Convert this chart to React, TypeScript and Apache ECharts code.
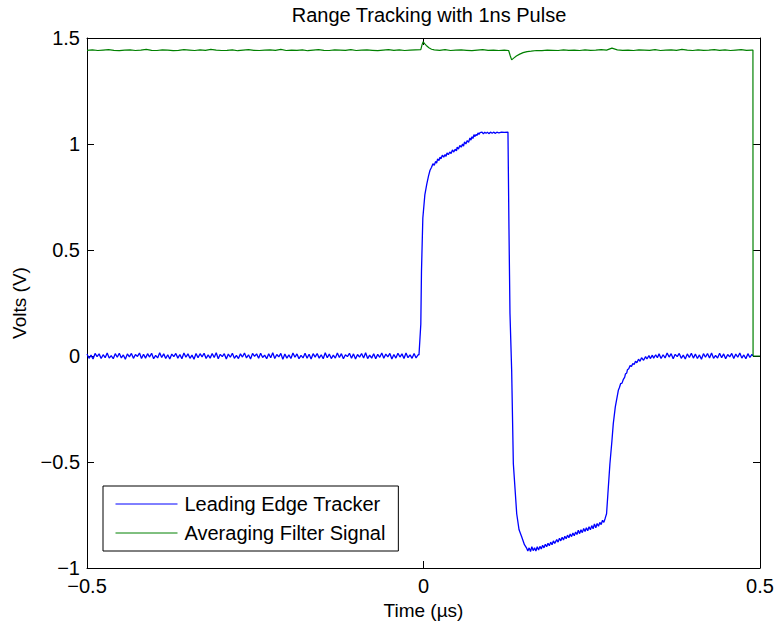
import React, { useEffect, useRef } from "react";
import * as echarts from "echarts";

// ---------- Data ----------
const title = "Range Tracking with 1ns Pulse";
const xName = "Time (µs)";
const yName = "Volts (V)";
const seriesNames = ["Leading Edge Tracker", "Averaging Filter Signal"];

// Blue trace: noisy baseline samples before the pulse (start -0.5, step 0.003)
const blueLeftStart = -0.5;
const blueStep = 0.003;
const blueLeft = [
  0.009, -0.011, 0.004, -0.014, 0.012, -0.003, 0.010, -0.012, 0.006, -0.008, 0.014, -0.010, 0.002, -0.013, 0.011,
  -0.006, 0.013, -0.009, 0.005, -0.015, 0.010, -0.004, 0.012, -0.011, 0.007, -0.002, 0.014, -0.012, 0.008, -0.010,
  0.011, -0.005, 0.013, -0.013, 0.003, -0.009, 0.015, -0.007, 0.010, -0.012, 0.006, -0.014, 0.009, -0.003, 0.012,
  -0.010, 0.007, -0.013, 0.014, -0.006, 0.010, -0.011, 0.004, -0.015, 0.012, -0.008, 0.011, -0.004, 0.013, -0.012,
  0.005, -0.010, 0.012, -0.007, 0.015, -0.013, 0.008, -0.003, 0.011, -0.014, 0.009, -0.006, 0.013, -0.011, 0.003,
  -0.012, 0.010, -0.005, 0.014, -0.009, 0.006, -0.014, 0.012, -0.002, 0.010, -0.011, 0.013, -0.007, 0.004, -0.013,
  0.011, -0.008, 0.015, -0.012, 0.007, -0.004, 0.012, -0.015, 0.009, -0.010, 0.005, -0.012, 0.014, -0.006, 0.010,
  -0.013, 0.003, -0.009, 0.013, -0.011, 0.008, -0.014, 0.011, -0.005, 0.012, -0.010, 0.006, -0.013, 0.015, -0.008,
  0.009, -0.012, 0.004, -0.010, 0.014, -0.007, 0.011, -0.013, 0.006, -0.003, 0.013, -0.011, 0.010, -0.014, 0.007,
  -0.005, 0.012, -0.009, 0.015, -0.012, 0.004, -0.010, 0.011, -0.013, 0.008, -0.006, 0.014, -0.011, 0.009, -0.004,
  0.012, -0.014, 0.007, -0.010, 0.013, -0.005, 0.010, -0.012, 0.014, -0.008, 0.005, -0.011, 0.012, -0.009, 0.006,
];
// Blue trace: pulse (rise, plateau, drop, negative lobe, recovery)
const bluePulse: [number, number][] = [
  [-0.0067, 0.005], [-0.004, 0.15], [-0.003, 0.40], [-0.001, 0.65], [0.002, 0.76],
  [0.0048, 0.81], [0.0075, 0.85], [0.0097, 0.876], [0.012, 0.89], [0.014, 0.907],
  [0.016, 0.9], [0.018, 0.918], [0.0195, 0.91], [0.021, 0.93], [0.023, 0.922],
  [0.0245, 0.938], [0.026, 0.93], [0.028, 0.947], [0.030, 0.938], [0.032, 0.95],
  [0.0335, 0.942], [0.035, 0.958], [0.037, 0.95], [0.039, 0.962], [0.041, 0.955],
  [0.043, 0.972], [0.045, 0.962], [0.047, 0.975], [0.049, 0.968], [0.050, 0.985],
  [0.052, 0.976], [0.054, 0.993], [0.056, 0.985], [0.058, 1.0], [0.0595, 0.99],
  [0.061, 1.01], [0.063, 1.0], [0.065, 1.016], [0.067, 1.008], [0.069, 1.028],
  [0.0705, 1.018], [0.072, 1.034], [0.0735, 1.026], [0.075, 1.044], [0.0765, 1.035],
  [0.078, 1.045], [0.0795, 1.04], [0.081, 1.052], [0.0825, 1.045], [0.084, 1.054],
  [0.087, 1.056], [0.089, 1.048], [0.091, 1.056], [0.093, 1.05], [0.095, 1.056],
  [0.097, 1.049], [0.1, 1.056], [0.102, 1.05], [0.104, 1.056], [0.107, 1.05],
  [0.109, 1.056], [0.112, 1.052], [0.116, 1.056], [0.12, 1.055], [0.1255, 1.056],
  [0.127, 0.6], [0.1285, 0.2], [0.131, -0.067], [0.1335, -0.508], [0.1385, -0.744],
  [0.142, -0.82], [0.146, -0.854], [0.15, -0.89], [0.153, -0.905], [0.155, -0.92],
  [0.157, -0.905], [0.159, -0.922], [0.161, -0.9], [0.163, -0.918], [0.165, -0.905],
  [0.167, -0.92], [0.169, -0.9], [0.171, -0.915], [0.173, -0.898], [0.175, -0.91],
  [0.177, -0.893], [0.179, -0.905], [0.181, -0.888], [0.183, -0.9], [0.185, -0.883],
  [0.187, -0.895], [0.189, -0.878], [0.191, -0.89], [0.193, -0.872], [0.195, -0.884],
  [0.198, -0.866], [0.200, -0.878], [0.202, -0.86], [0.204, -0.872], [0.206, -0.855],
  [0.208, -0.868], [0.21, -0.85], [0.212, -0.862], [0.214, -0.845], [0.216, -0.857],
  [0.218, -0.84], [0.220, -0.852], [0.222, -0.835], [0.224, -0.848], [0.226, -0.83],
  [0.228, -0.842], [0.23, -0.822], [0.232, -0.838], [0.234, -0.82], [0.236, -0.833],
  [0.238, -0.814], [0.240, -0.828], [0.242, -0.81], [0.244, -0.824], [0.246, -0.805],
  [0.248, -0.82], [0.25, -0.8], [0.252, -0.815], [0.254, -0.792], [0.256, -0.81],
  [0.258, -0.79], [0.260, -0.803], [0.262, -0.785], [0.264, -0.795], [0.266, -0.775],
  [0.268, -0.785], [0.27, -0.765], [0.272, -0.744], [0.274, -0.65],
  [0.277, -0.508], [0.28, -0.40], [0.282, -0.319], [0.285, -0.24], [0.2895, -0.162],
  [0.291, -0.15], [0.293, -0.13], [0.295, -0.128], [0.297, -0.11], [0.299, -0.1],
  [0.30, -0.085], [0.302, -0.08], [0.303, -0.065], [0.305, -0.06], [0.307, -0.045],
  [0.309, -0.05], [0.311, -0.035], [0.313, -0.04], [0.315, -0.025], [0.317, -0.032],
  [0.3195, -0.015], [0.3217, -0.025], [0.324, -0.008], [0.327, -0.02], [0.33, -0.003],
  [0.332, -0.014], [0.335, 0.002], [0.337, -0.012], [0.34, 0.004], [0.342, -0.01],
  [0.345, 0.006], [0.3475, -0.008],
];
// Blue trace: noisy baseline after the pulse (start 0.35, step 0.003)
const blueRightStart = 0.35;
const blueRight = [
  0.010, -0.012, 0.006, -0.009, 0.014, -0.005, 0.011, -0.013, 0.008, -0.003, 0.012, -0.011, 0.004, -0.014, 0.010,
  -0.007, 0.013, -0.010, 0.009, -0.012, 0.005, -0.015, 0.011, -0.006, 0.012, -0.009, 0.014, -0.011, 0.003, -0.010,
  0.013, -0.008, 0.010, -0.013, 0.007, -0.004, 0.012, -0.012, 0.009, -0.006, 0.014, -0.010, 0.005, -0.013, 0.011,
  -0.007, 0.008,
];
const blueEnd: [number, number][] = [[0.4895, 0.0]];

// Green trace segments (step 0.008)
const greenStep = 0.008;
const greenAStart = -0.5;
const greenA = [
  1.442, 1.444, 1.441, 1.443, 1.445, 1.442, 1.440, 1.443, 1.444, 1.441,
  1.443, 1.446, 1.442, 1.441, 1.444, 1.443, 1.440, 1.442, 1.445, 1.443,
  1.441, 1.444, 1.442, 1.446, 1.443, 1.441, 1.442, 1.444, 1.440, 1.443,
  1.445, 1.442, 1.441, 1.443, 1.444, 1.442, 1.446, 1.441, 1.443, 1.442,
  1.444, 1.440, 1.443, 1.445, 1.442, 1.441, 1.444, 1.443, 1.442, 1.445,
  1.441, 1.443, 1.444, 1.442, 1.440, 1.443, 1.445, 1.442, 1.444, 1.441,
  1.443, 1.444,
];
const greenSpike: [number, number][] = [
  [-0.004, 1.445], [-0.002, 1.47], [-0.0005, 1.482], [0.002, 1.472], [0.005, 1.462],
  [0.008, 1.454], [0.012, 1.447],
];
const greenBStart = 0.016;
const greenB = [
  1.444, 1.442, 1.445, 1.441, 1.443, 1.444, 1.442, 1.440, 1.443, 1.445,
  1.442, 1.443, 1.441, 1.443,
];
const greenDip: [number, number][] = [
  [0.1265, 1.441], [0.129, 1.415], [0.131, 1.397], [0.134, 1.405], [0.138, 1.415],
  [0.143, 1.424], [0.148, 1.431], [0.154, 1.436],
];
const greenCStart = 0.16;
const greenC = [
  1.438, 1.441, 1.440, 1.443, 1.442, 1.441, 1.444, 1.442, 1.443, 1.441,
  1.444, 1.442, 1.443, 1.445, 1.443, 1.452, 1.444, 1.442, 1.443, 1.441,
  1.444, 1.443, 1.442, 1.445, 1.441, 1.443, 1.444, 1.442, 1.446, 1.443,
  1.441, 1.444, 1.442, 1.443, 1.445, 1.442, 1.444, 1.441, 1.443, 1.445,
  1.442, 1.443,
];
const greenEnd: [number, number][] = [[0.4895, 1.443], [0.4897, 0], [0.5, 0]];

const seg = (start: number, step: number, vals: number[], maxX: number): [number, number][] =>
  vals
    .map((v, i) => [+(start + i * step).toFixed(4), v] as [number, number])
    .filter((p) => p[0] <= maxX);

const blueData = [
  ...seg(blueLeftStart, blueStep, blueLeft, -0.008),
  ...bluePulse,
  ...seg(blueRightStart, blueStep, blueRight, 0.4885),
  ...blueEnd,
];
const greenData = [
  ...seg(greenAStart, greenStep, greenA, -0.006),
  ...greenSpike,
  ...seg(greenBStart, greenStep, greenB, 0.122),
  ...greenDip,
  ...seg(greenCStart, greenStep, greenC, 0.489),
  ...greenEnd,
];

const FONT = "Liberation Sans";
const fmt = (v: number) => (v < 0 ? "\u2212" + String(Math.abs(v)) : String(v));

export default function App() {
  const ref = useRef<HTMLDivElement>(null);
  useEffect(() => {
    if (!ref.current) return;
    const chart = echarts.init(ref.current, undefined, { renderer: "svg" });
    const axisLine = { show: true, onZero: false, lineStyle: { color: "#000", width: 1 } };
    const tick = { show: true, inside: true, length: 7, lineStyle: { color: "#000", width: 1 } };
    chart.setOption({
      animation: false,
      backgroundColor: "#fff",
      title: {
        text: title,
        left: 424,
        top: 0,
        textAlign: "center",
        textStyle: { fontFamily: FONT, fontSize: 20, fontWeight: "normal", color: "#000" },
      },
      grid: { left: 87, right: 17, top: 38, bottom: 58, containLabel: false },
      legend: {
        orient: "vertical",
        left: 103,
        top: 486,
        data: seriesNames,
        backgroundColor: "#fff",
        borderColor: "#000",
        borderWidth: 1,
        borderRadius: 0,
        padding: [8, 13, 8, 12],
        itemWidth: 62,
        itemHeight: 20,
        itemGap: 9,
        itemStyle: { opacity: 0 },
        lineStyle: { width: 1 },
        textStyle: { fontFamily: FONT, fontSize: 20, color: "#000", padding: [0, 0, 0, 2] },
      },
      xAxis: [
        {
          type: "value",
          min: -0.5,
          max: 0.5,
          interval: 0.5,
          position: "bottom",
          axisLine,
          axisTick: tick,
          splitLine: { show: false },
          axisLabel: { fontFamily: FONT, fontSize: 20, color: "#000", margin: 8, formatter: fmt },
          name: xName,
          nameLocation: "middle",
          nameGap: 31,
          nameTextStyle: { fontFamily: FONT, fontSize: 19, color: "#000" },
        },
        {
          type: "value",
          min: -0.5,
          max: 0.5,
          interval: 0.5,
          position: "top",
          axisLine,
          axisTick: tick,
          splitLine: { show: false },
          axisLabel: { show: false },
        },
      ],
      yAxis: [
        {
          type: "value",
          min: -1,
          max: 1.5,
          interval: 0.5,
          position: "left",
          axisLine,
          axisTick: tick,
          splitLine: { show: false },
          axisLabel: { fontFamily: FONT, fontSize: 20, color: "#000", margin: 7, formatter: fmt },
          name: yName,
          nameLocation: "middle",
          nameGap: 58,
          nameTextStyle: { fontFamily: FONT, fontSize: 19, color: "#000" },
        },
        {
          type: "value",
          min: -1,
          max: 1.5,
          interval: 0.5,
          position: "right",
          axisLine,
          axisTick: tick,
          splitLine: { show: false },
          axisLabel: { show: false },
        },
      ],
      series: [
        {
          name: seriesNames[0],
          type: "line",
          data: blueData,
          showSymbol: false,
          symbol: "none",
          color: "#0000ff",
          lineStyle: { color: "#0000ff", width: 1.3 },
          xAxisIndex: 0,
          yAxisIndex: 0,
        },
        {
          name: seriesNames[1],
          type: "line",
          data: greenData,
          showSymbol: false,
          symbol: "none",
          color: "#008000",
          lineStyle: { color: "#008000", width: 1.2 },
          xAxisIndex: 0,
          yAxisIndex: 0,
        },
      ],
    });
    return () => chart.dispose();
  }, []);
  return <div ref={ref} style={{ width: 777, height: 626, position: "absolute", left: 0, top: 0 }} />;
}
